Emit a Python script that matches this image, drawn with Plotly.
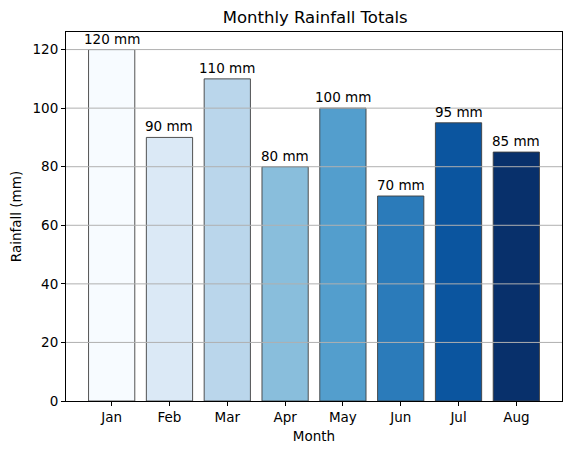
import plotly.graph_objects as go

months = ["Jan", "Feb", "Mar", "Apr", "May", "Jun", "Jul", "Aug"]
rainfall = [120, 90, 110, 80, 100, 70, 95, 85]
colors = ["#f7fbff", "#dbe9f6", "#bad6eb", "#89bedc", "#539ecd", "#2b7bba", "#0b559f", "#08306b"]
labels = [f"{v} mm" for v in rainfall]
y_ticks = [0, 20, 40, 60, 80, 100, 120]

x = list(range(len(months)))
fig = go.Figure()
fig.add_trace(go.Bar(
    x=x, y=rainfall, width=0.8,
    marker=dict(color=colors, line=dict(color="#404040", width=0.9)),
))
for xi, v, lab in zip(x, rainfall, labels):
    fig.add_annotation(x=xi, y=v, text=lab, showarrow=False, yanchor="bottom",
                       yshift=1, font=dict(family="DejaVu Sans", size=13.5, color="black"))
# grid lines drawn above the bars, as in the reference
for t in y_ticks[1:]:
    fig.add_shape(type="line", xref="paper", x0=0, x1=1, yref="y", y0=t, y1=t,
                  line=dict(color="#b0b0b0", width=1), layer="above")
fig.update_layout(
    width=571, height=455,
    margin=dict(l=66, r=9, t=32, b=54, autoexpand=False),
    plot_bgcolor="white", paper_bgcolor="white",
    font=dict(family="DejaVu Sans", size=13.5, color="black"),
    title=dict(text="Monthly Rainfall Totals", x=0.552, xanchor="center", y=0.975, yanchor="top",
               font=dict(size=16.5, color="black")),
    showlegend=False,
)
fig.update_xaxes(
    tickmode="array", tickvals=x, ticktext=months, range=[-0.79, 7.79],
    showline=True, linecolor="black", linewidth=1, mirror=True,
    ticks="outside", ticklen=4, tickcolor="black", showgrid=False, automargin=False,
    title=dict(text="Month", standoff=7, font=dict(size=13.5)),
    tickfont=dict(size=13.5),
)
fig.update_yaxes(
    range=[0, 126], tickvals=y_ticks,
    showline=True, linecolor="black", linewidth=1, mirror=True, layer="above traces",
    ticks="outside", ticklen=4, tickcolor="black", automargin=False,
    showgrid=False, zeroline=False,
    title=dict(text="Rainfall (mm)", standoff=7, font=dict(size=13.5)),
    tickfont=dict(size=13.5),
)
fig.write_html("out.html", config={"displayModeBar": False},
               post_script="document.body.style.margin='0';document.body.style.overflow='hidden';")
